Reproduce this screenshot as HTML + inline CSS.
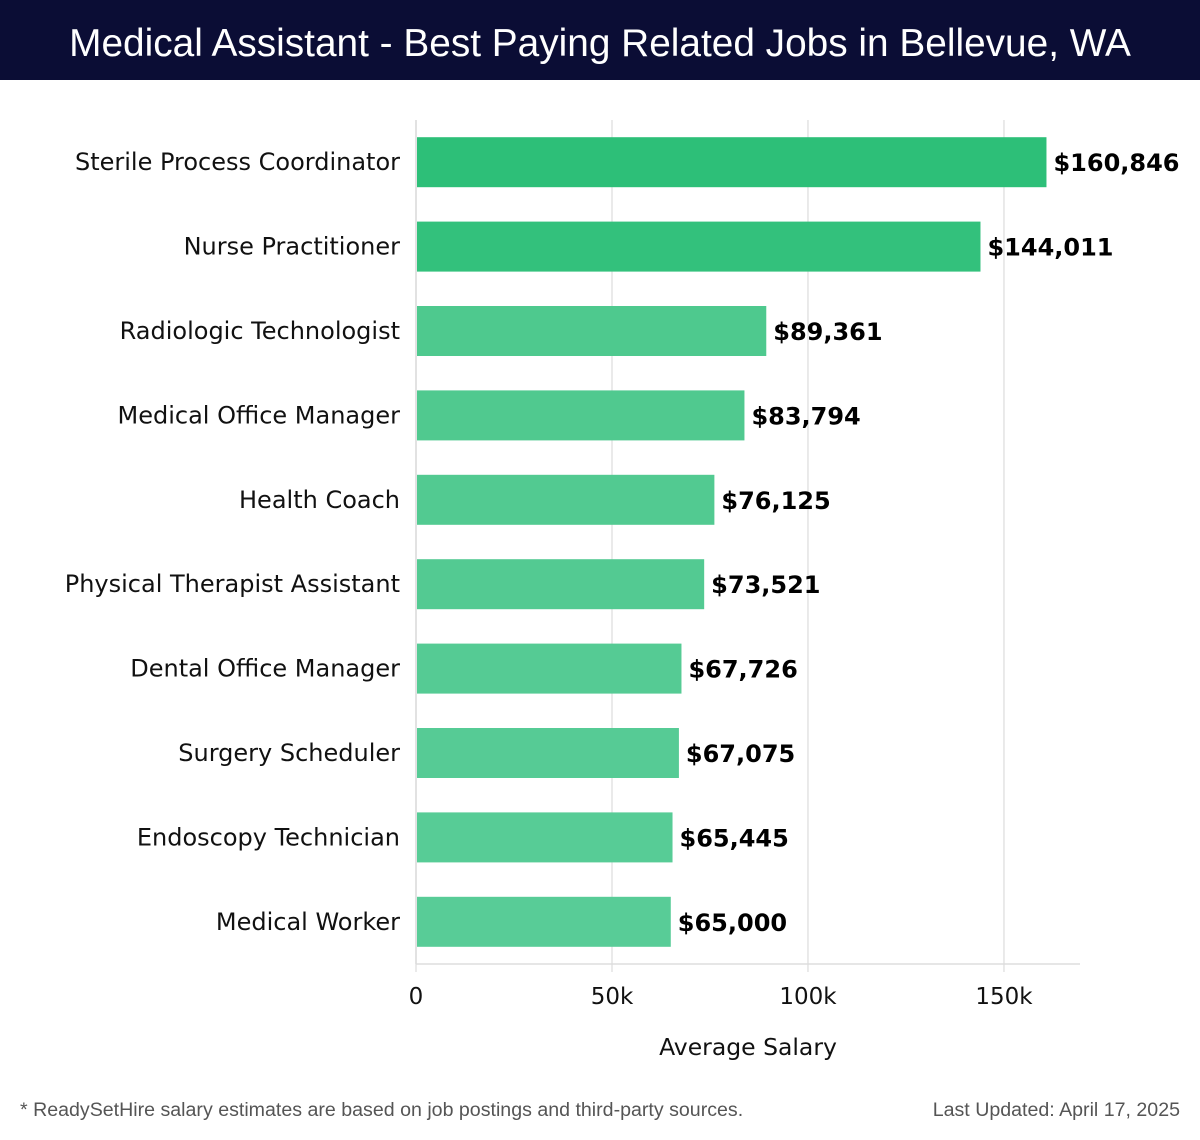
<!DOCTYPE html>
<html><head><meta charset="utf-8"><style>
html,body{margin:0;padding:0;background:#fff;}
body{width:1200px;height:1140px;position:relative;overflow:hidden;font-family:"DejaVu Sans","Liberation Sans",sans-serif;}
#hdr{position:absolute;left:0;top:0;width:1200px;height:80px;background:#0b0d35;color:#fff;font-size:38.8px;text-align:center;line-height:88px;font-family:"Liberation Sans",sans-serif;}
.foot{position:absolute;top:1099px;font-size:19.6px;color:#555;font-family:"Liberation Sans",sans-serif;}
</style></head><body>
<div id="hdr">Medical Assistant - Best Paying Related Jobs in Bellevue, WA</div>
<svg id="chart" width="1200" height="1140" style="position:absolute;left:0;top:0;pointer-events:none"></svg>
<div class="foot" style="left:20px">* ReadySetHire salary estimates are based on job postings and third-party sources.</div>
<div class="foot" style="right:20px">Last Updated: April 17, 2025</div>
<script>
const categories=["Sterile Process Coordinator","Nurse Practitioner","Radiologic Technologist","Medical Office Manager","Health Coach","Physical Therapist Assistant","Dental Office Manager","Surgery Scheduler","Endoscopy Technician","Medical Worker"];
const values=[160846,144011,89361,83794,76125,73521,67726,67075,65445,65000];
const ticks=[0,50000,100000,150000];
const tickLabels=["0","50k","100k","150k"];
const colors=["#2dbf78","#33c17c","#4ec98e","#50c98f","#52ca91","#53ca92","#55cb94","#56cb95","#57cc96","#58cc97"];
const NS="http://www.w3.org/2000/svg";
const svg=document.getElementById('chart');
const x0=416,xMax=1080,dMax=169400,yTop=120,yBot=964;
const xs=v=>x0+v/dMax*(xMax-x0);
const band=(yBot-yTop)/categories.length;
const yc=i=>yTop+band*(i+0.5);
function mk(t,a){const e=document.createElementNS(NS,t);for(const k in a)e.setAttribute(k,a[k]);svg.appendChild(e);return e;}
ticks.forEach((t,i)=>{
 const g=mk('line',{x1:xs(t),x2:xs(t),y1:yTop,y2:yBot+8,stroke:'#e3e3e3','stroke-width':1.5});
 
 
 const l=mk('text',{x:xs(t),y:1004,'text-anchor':'middle','font-size':23,fill:'#111'});
 l.textContent=tickLabels[i];
 
 
});
const ax=mk('line',{x1:x0,x2:xMax,y1:yBot,y2:yBot,stroke:'#ddd','stroke-width':1.5});


const ay=mk('line',{x1:x0,x2:x0,y1:yTop,y2:yBot,stroke:'#ddd','stroke-width':1.5});


categories.forEach((c,i)=>{
 const y=yc(i),h=50;
 const r=mk('rect',{x:x0+1,y:y-h/2,width:xs(values[i])-x0-1,height:h,fill:colors[i]});
 
 
 const v=mk('text',{x:xs(values[i])+7,y:y+9,'font-size':24,'font-weight':'bold',fill:'#000'});
 v.textContent='$'+values[i].toLocaleString('en-US');
 
 
 const l=mk('text',{x:400,y:y+8,'text-anchor':'end','font-size':24,fill:'#111'});
 l.textContent=c;
 
 
});
const t=mk('text',{x:748,y:1055,'text-anchor':'middle','font-size':23.5,fill:'#111'});
t.textContent='Average Salary';


</script>
</body></html>
